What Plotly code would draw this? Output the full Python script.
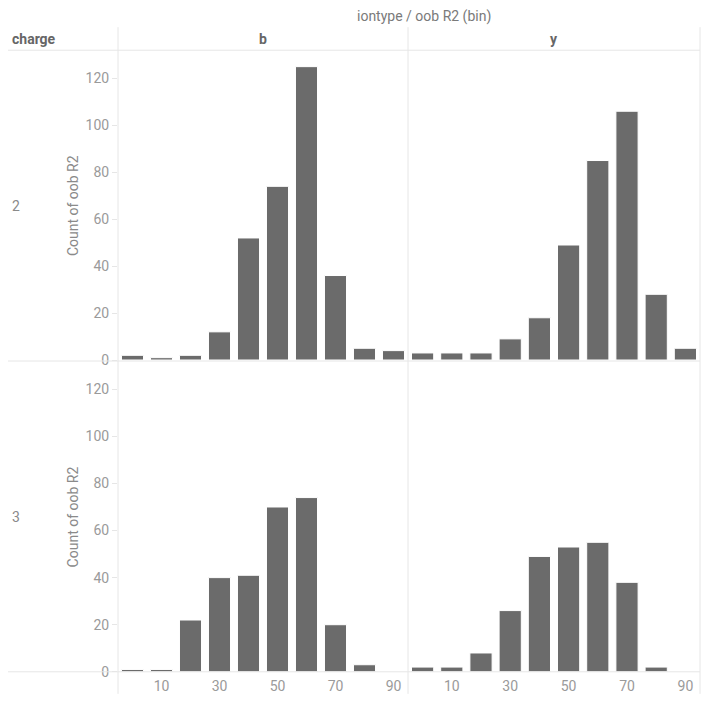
import plotly.graph_objects as go

# oob R2 bins (bin start) and counts per charge / iontype
bins = [0, 10, 20, 30, 40, 50, 60, 70, 80, 90]
b_charge2 = [2, 1, 2, 12, 52, 74, 125, 36, 5, 4]
y_charge2 = [3, 3, 3, 9, 18, 49, 85, 106, 28, 5]
b_charge3 = [1, 1, 22, 40, 41, 70, 74, 20, 3, 0]
y_charge3 = [2, 2, 8, 26, 49, 53, 55, 38, 2, 0]

iontypes = ['b', 'y']
charges = ['2', '3']
y_ticks = [0, 20, 40, 60, 80, 100, 120]
x_ticks = [10, 30, 50, 70, 90]

# page body has an 8px margin; the captured page comes out squeezed
# vertically by about 712/722, so positions are stretched to compensate
OFF = 8
KY = 712 / 722
W, H = 720 - 2 * OFF, 722 - 2 * OFF
BAR_COLOR = '#6b6b6b'
LINE_COLOR = '#e6e6e6'
TEXT_COLOR = '#8a8a8a'
HEAD_COLOR = '#666666'
FONT = 'Roboto, Arial, sans-serif'


def px_x(v):
    return (v - OFF) / W


def px_y(v):
    return 1 - (v / KY - OFF) / H


# panel edges in window pixels
col_edges = [(118, 408), (408, 700)]
row_edges = [(50, 359), (360, 670)]

panels = [
    (0, 0, b_charge2), (0, 1, y_charge2),
    (1, 0, b_charge3), (1, 1, y_charge3),
]

fig = go.Figure()
layout = {}
for i, (r, c, counts) in enumerate(panels):
    n = '' if i == 0 else str(i + 1)
    fig.add_trace(go.Bar(
        x=bins, y=counts,
        xaxis='x' + n, yaxis='y' + n,
        width=7.6,
        marker_color=BAR_COLOR,
        marker_line=dict(color='white', width=1),
        showlegend=False,
        hoverinfo='x+y'
    ))
    x0, x1 = col_edges[c]
    y0, y1 = row_edges[r]
    layout['xaxis' + n] = dict(
        domain=[px_x(x0), px_x(x1)],
        range=[-5, 95],
        anchor='y' + n,
        tickvals=x_ticks if r == 1 else [],
        showticklabels=(r == 1),
        ticks='',
        ticklabelstandoff=4,
        showgrid=False, zeroline=False, showline=False,
        tickfont=dict(size=14, color='#9a9a9a', family=FONT),
        fixedrange=True,
    )
    layout['yaxis' + n] = dict(
        domain=[px_y(y1), px_y(y0)],
        range=[0, 132],
        anchor='x' + n,
        tickvals=y_ticks if c == 0 else [],
        showticklabels=(c == 0),
        ticks='outside' if c == 0 else '',
        ticklen=5, tickcolor=LINE_COLOR,
        showgrid=False, zeroline=False, showline=False,
        tickfont=dict(size=14, color='#9a9a9a', family=FONT),
        fixedrange=True,
    )

shapes = []
# horizontal separators
for yy in [50, 360, 670]:
    shapes.append(dict(type='line', xref='paper', yref='paper',
                       x0=px_x(5), x1=px_x(700), y0=px_y(yy), y1=px_y(yy),
                       line=dict(color=LINE_COLOR, width=1)))
# vertical separators
for xx in [118, 408, 700]:
    shapes.append(dict(type='line', xref='paper', yref='paper',
                       x0=px_x(xx), x1=px_x(xx), y0=px_y(27), y1=px_y(692),
                       line=dict(color=LINE_COLOR, width=1)))

annotations = [
    dict(text='iontype / oob R2 (bin)', x=px_x(424), y=px_y(16),
         font=dict(size=14, color='#7a7a7a')),
    dict(text='<b>charge</b>', x=px_x(10), y=px_y(39), xanchor='left',
         font=dict(size=14, color=HEAD_COLOR)),
]
for c, name in enumerate(iontypes):
    x0, x1 = col_edges[c]
    annotations.append(dict(text='<b>' + name + '</b>', x=px_x((x0 + x1) / 2),
                            y=px_y(39), font=dict(size=14, color=HEAD_COLOR)))
for r, name in enumerate(charges):
    y0, y1 = row_edges[r]
    mid = (y0 + y1) / 2 + 1
    annotations.append(dict(text=name, x=px_x(10), y=px_y(mid), xanchor='left',
                            font=dict(size=14, color=TEXT_COLOR)))
    annotations.append(dict(text='Count of oob R2', x=px_x(73), y=px_y(mid),
                            textangle=-90, font=dict(size=14, color=TEXT_COLOR)))
for a in annotations:
    a.update(xref='paper', yref='paper', showarrow=False, yanchor='middle')
    a.setdefault('xanchor', 'center')
    a['font'].setdefault('family', FONT)

fig.update_layout(
    width=W, height=H,
    margin=dict(l=0, r=0, t=0, b=0),
    paper_bgcolor='white', plot_bgcolor='white',
    font=dict(family=FONT),
    shapes=shapes,
    annotations=annotations,
    **layout
)

fig.write_html("out.html")
